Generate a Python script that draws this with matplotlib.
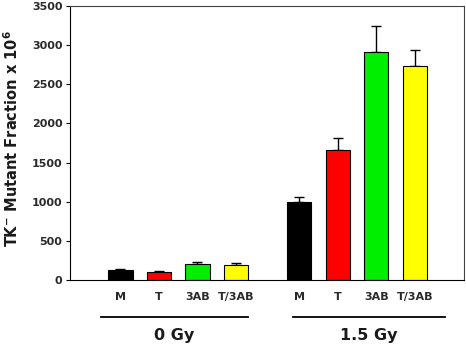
import matplotlib
matplotlib.use("Agg")
import matplotlib.pyplot as plt
import matplotlib.transforms as mtransforms

plt.rcParams['font.family'] = ['DejaVu Sans']
plt.rcParams['mathtext.fontset'] = 'dejavusans'

treatments = ["M", "T", "3AB", "T/3AB"]
colors = ["#000000", "#ff0000", "#00ee00", "#ffff00"]
doses = ["0 Gy", "1.5 Gy"]
values_0gy = [122, 100, 208, 190]
errors_0gy = [18, 12, 20, 25]
values_15gy = [996, 1656, 2908, 2733]
errors_15gy = [65, 160, 340, 205]
yticks = [0, 500, 1000, 1500, 2000, 2500, 3000, 3500]

fig = plt.figure(figsize=(4.66, 3.47), dpi=100)
ax = fig.add_axes([70/466, 67/347, 394/466, 274/347])

pos0 = [1, 2, 3, 4]
pos1 = [5.64, 6.64, 7.64, 8.64]
w = 0.63
for pos, vals, errs in [(pos0, values_0gy, errors_0gy), (pos1, values_15gy, errors_15gy)]:
    ax.bar(pos, vals, width=w, color=colors, edgecolor="black", linewidth=0.8, zorder=2)
    ax.errorbar(pos, vals, yerr=[[0]*4, errs], fmt="none", ecolor="black",
                elinewidth=1.0, capsize=3.5, capthick=1.0, zorder=1)

ax.set_xlim(-0.31, 9.92)
ax.set_ylim(0, 3500)
ax.set_yticks(yticks)
ax.set_xticks([])
ax.tick_params(axis='y', direction='out', length=3, width=0.8, labelsize=8, pad=2.5)
for lab in ax.get_yticklabels():
    lab.set_fontweight('bold')
    lab.set_color('#2a2a2a')
for s in ax.spines.values():
    s.set_linewidth(0.8)
    s.set_color('#444444')
ax.spines['bottom'].set_color('black')
ax.spines['left'].set_color('black')

fig.text(12/466, 1 - 139/347, "TK$^{\\mathbf{-}}$ Mutant Fraction x 10$^{\\mathbf{6}}$",
         rotation=90, ha='center', va='center', fontsize=10.5, fontweight='bold',
         color='#1a1a1a')

trans = mtransforms.blended_transform_factory(ax.transData, ax.transAxes)
for pos in (pos0, pos1):
    for p, t in zip(pos, treatments):
        ax.text(p, -0.061, t, transform=trans, ha='center', va='center',
                fontsize=8, fontweight='bold', color='#2a2a2a')

lines = [(0.49, 4.31), (5.48, 9.43)]
for (x0, x1), d in zip(lines, doses):
    ax.plot([x0, x1], [-0.136, -0.136], transform=trans, color='black',
            linewidth=1.3, clip_on=False)
    ax.text((x0 + x1) / 2, -0.203, d, transform=trans,
            ha='center', va='center', fontsize=11.5, fontweight='bold', color='#1a1a1a')

fig.savefig("out.png", dpi=100)
